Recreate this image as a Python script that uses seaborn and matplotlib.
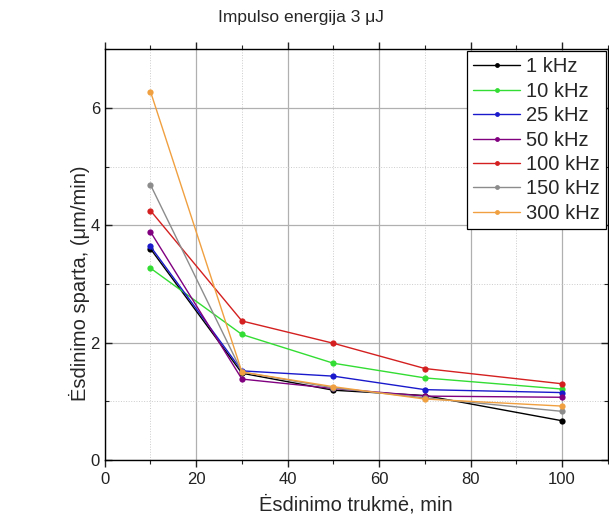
import matplotlib
matplotlib.use("Agg")
import matplotlib.pyplot as plt
import numpy as np
import pandas as pd
import seaborn as sns
from matplotlib.lines import Line2D
from matplotlib.ticker import MultipleLocator

sns.set_theme(style="white")
plt.rcParams["font.family"] = ["Liberation Sans", "DejaVu Sans"]

# Ėsdinimo trukmė, min
laikas = [10, 30, 50, 70, 100]

# Ėsdinimo sparta (µm/min) pagal dažnį
sparta_1 = [3.60, 1.48, 1.19, 1.10, 0.67]
sparta_10 = [3.27, 2.14, 1.65, 1.40, 1.21]
sparta_25 = [3.64, 1.52, 1.43, 1.20, 1.15]
sparta_50 = [3.89, 1.38, 1.22, 1.09, 1.07]
sparta_100 = [4.25, 2.37, 1.99, 1.56, 1.30]
sparta_150 = [4.69, 1.50, 1.23, 1.06, 0.83]
sparta_300 = [6.28, 1.50, 1.25, 1.04, 0.92]

dazniai = ["1 kHz", "10 kHz", "25 kHz", "50 kHz", "100 kHz", "150 kHz", "300 kHz"]
spalvos = ["#000000", "#33dd33", "#1a1acc", "#800080", "#d42020", "#8c8c8c", "#f0a040"]

serijos = [sparta_1, sparta_10, sparta_25, sparta_50, sparta_100, sparta_150, sparta_300]
df = pd.concat(
    [pd.DataFrame({"t": laikas, "v": s, "f": d}) for d, s in zip(dazniai, serijos)],
    ignore_index=True,
)

fig = plt.figure(figsize=(6.09, 5.24), dpi=100)
ax = fig.add_axes([0.172, 0.122, 0.826, 0.784])

sns.lineplot(
    data=df, x="t", y="v", hue="f", hue_order=dazniai,
    palette=dict(zip(dazniai, spalvos)), marker="o", markersize=4.5,
    markeredgewidth=0, linewidth=1.0, ax=ax, legend=False,
)

ax.set_xlim(0, 110)
ax.set_ylim(0, 7)
ax.xaxis.set_major_locator(MultipleLocator(20))
ax.xaxis.set_minor_locator(MultipleLocator(10))
ax.yaxis.set_major_locator(MultipleLocator(2))
ax.yaxis.set_minor_locator(MultipleLocator(1))
ax.grid(which="major", color="#b0b0b0", linewidth=0.9)
ax.grid(which="minor", color="#cccccc", linewidth=0.7, linestyle=":")
ax.tick_params(which="both", direction="in", top=True, right=True,
               bottom=True, left=True, labelsize=12, colors="#222222")
ax.tick_params(axis="x", which="both", bottom=True, direction="out")
ax.tick_params(which="major", length=5, width=1)
ax.tick_params(which="minor", length=3, width=0.8)
for s in ax.spines.values():
    s.set_color("black")
    s.set_linewidth(1)

ax.set_xlabel("Ėsdinimo trukmė, min", fontsize=14.5, labelpad=6)
ax.set_ylabel("Ėsdinimo sparta, (μm/min)", fontsize=14.5)
ax.yaxis.set_label_coords(-0.03, 0.43)
fig.text(0.494, 0.966, "Impulso energija 3 μJ", ha="center", va="center",
         fontsize=12.5)

handles = [Line2D([], [], color=c, marker="o", markersize=3.5, markeredgewidth=0,
                  linewidth=1.0) for c in spalvos]
leg = ax.legend(handles, dazniai, loc="upper right", fontsize=14.5, frameon=True,
                fancybox=False, edgecolor="black", framealpha=1,
                borderaxespad=0.1, handlelength=2.3, handletextpad=0.3,
                labelspacing=0.27, borderpad=0.3)
leg.get_frame().set_linewidth(0.9)

fig.savefig("out.png", dpi=100)
